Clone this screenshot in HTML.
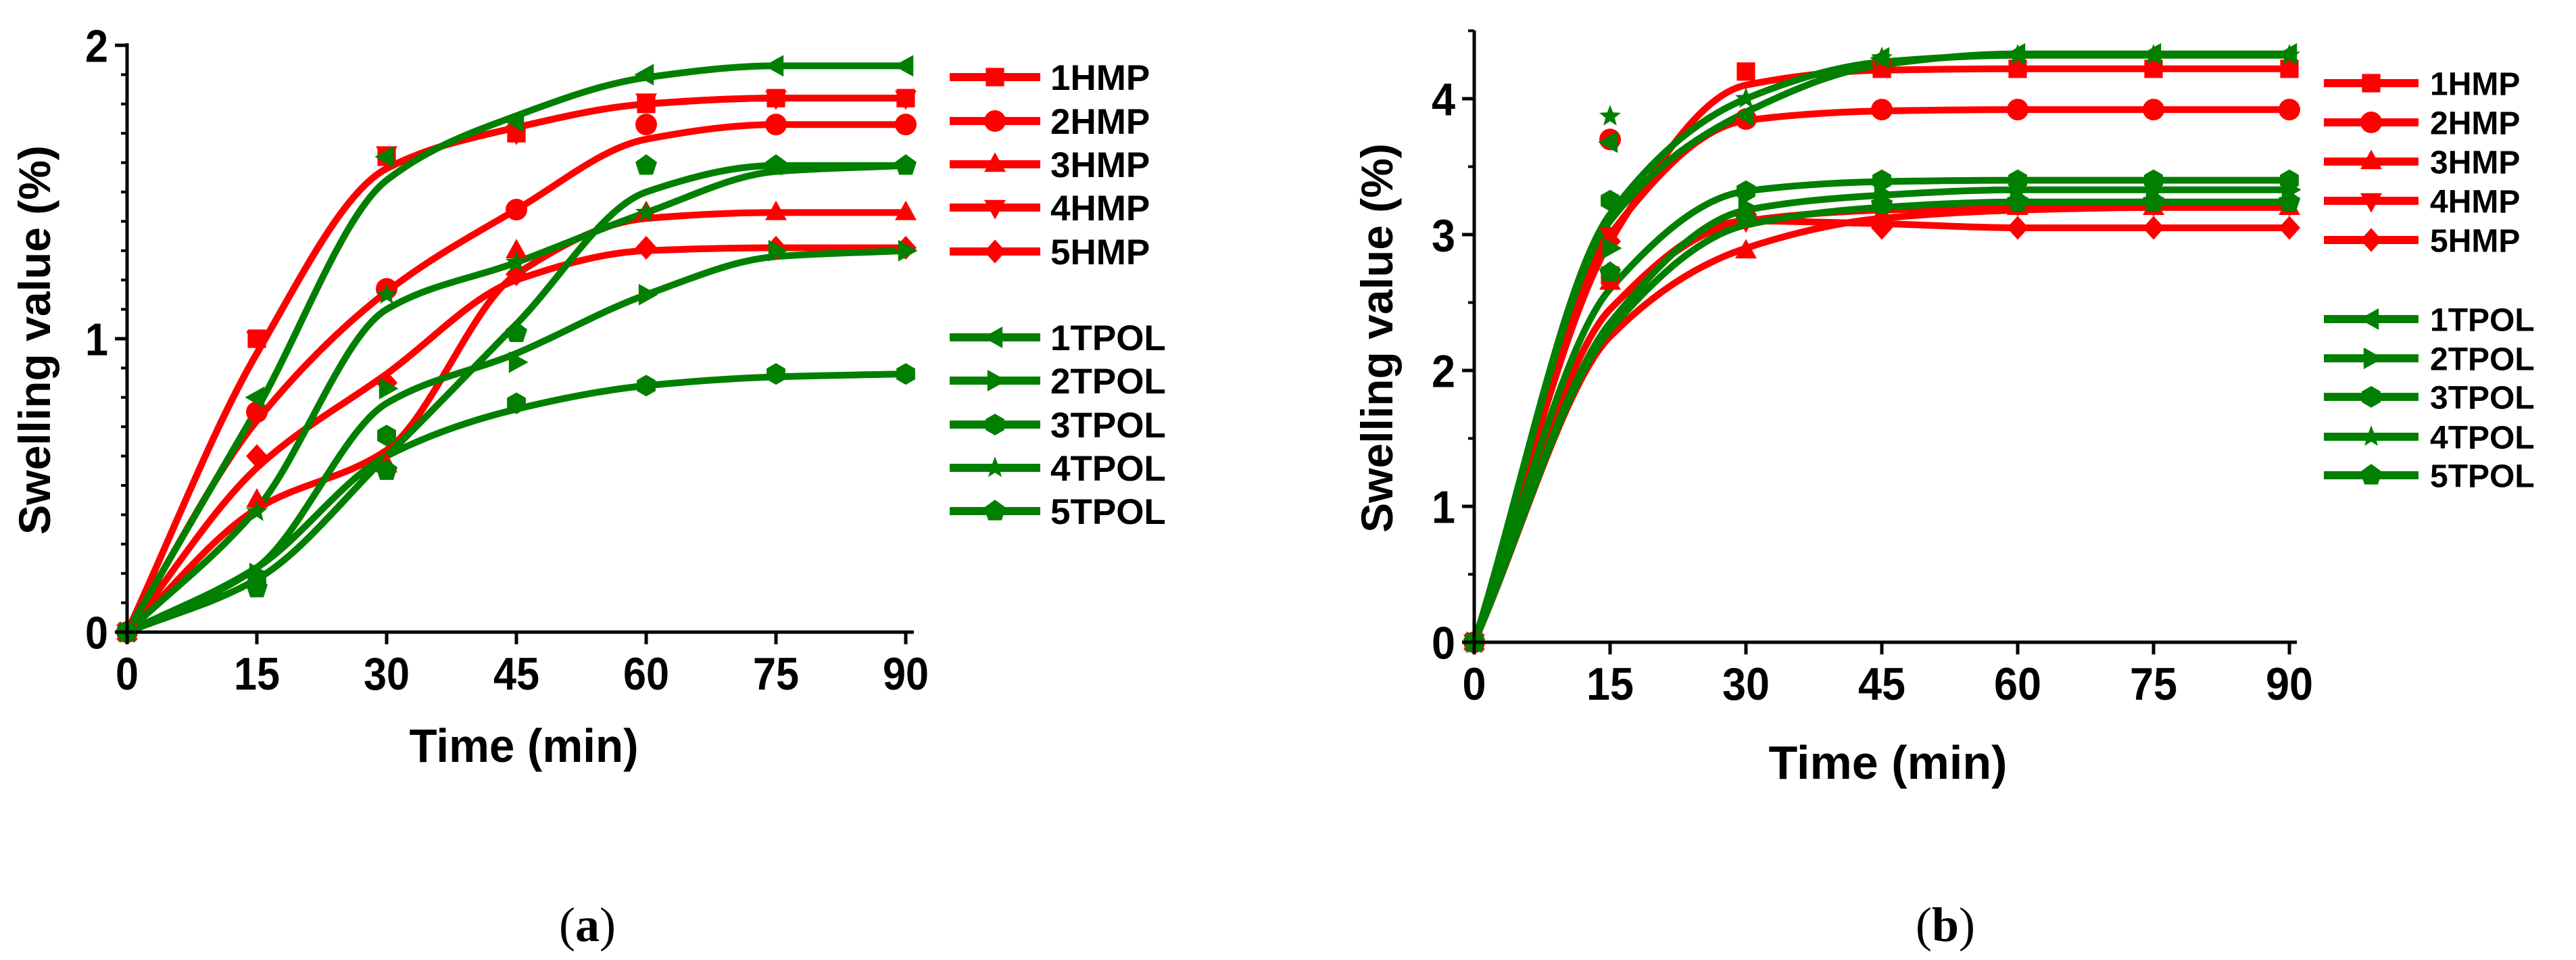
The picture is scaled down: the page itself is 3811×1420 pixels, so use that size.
<!DOCTYPE html>
<html><head><meta charset="utf-8">
<style>
html,body{margin:0;padding:0;background:#fff;}
svg{display:block;}
text{font-family:"Liberation Sans",Arial,sans-serif;font-weight:bold;fill:#000;}
.cap{font-family:"Liberation Serif",serif;font-weight:normal;}
</style></head>
<body>
<svg id="fig" width="3811" height="1420" viewBox="0 0 3811 1420" xmlns="http://www.w3.org/2000/svg">
<g id="chartA"></g>
<g id="chartB"></g>
<text class="cap" x="869" y="1392" font-size="72" text-anchor="middle">(<tspan font-weight="bold">a</tspan>)</text>
<text class="cap" x="2878" y="1392" font-size="72" text-anchor="middle">(<tspan font-weight="bold">b</tspan>)</text>
</svg>
<script>
const times = [0, 15, 30, 45, 60, 75, 90];
const seriesNames = ["1HMP","2HMP","3HMP","4HMP","5HMP","1TPOL","2TPOL","3TPOL","4TPOL","5TPOL"];
const xTicks = [0, 15, 30, 45, 60, 75, 90];
const yTicksA = [0, 1, 2];
const yTicksB = [0, 1, 2, 3, 4];
// chart (a) measured values
const a1HMP  = [0, 1.00, 1.62, 1.70, 1.80, 1.82, 1.82];
const a2HMP  = [0, 0.75, 1.17, 1.44, 1.73, 1.73, 1.73];
const a3HMP  = [0, 0.45, 0.57, 1.30, 1.43, 1.43, 1.43];
const a4HMP  = [0, 1.00, 1.63, 1.70, 1.81, 1.82, 1.82];
const a5HMP  = [0, 0.60, 0.85, 1.22, 1.31, 1.31, 1.31];
const a1TPOL = [0, 0.80, 1.62, 1.74, 1.90, 1.93, 1.93];
const a2TPOL = [0, 0.20, 0.83, 0.92, 1.15, 1.30, 1.30];
const a3TPOL = [0, 0.18, 0.67, 0.78, 0.84, 0.88, 0.88];
const a4TPOL = [0, 0.41, 1.15, 1.26, 1.43, 1.59, 1.59];
const a5TPOL = [0, 0.15, 0.55, 1.02, 1.59, 1.59, 1.59];
// chart (a) fitted curve values
const fa1HMP  = [0, 0.95, 1.58, 1.72, 1.80, 1.82, 1.82];
const fa2HMP  = [0, 0.72, 1.16, 1.44, 1.68, 1.73, 1.73];
const fa3HMP  = [0, 0.42, 0.62, 1.22, 1.41, 1.43, 1.43];
const fa4HMP  = [0, 0.95, 1.58, 1.72, 1.80, 1.82, 1.82];
const fa5HMP  = [0, 0.56, 0.88, 1.20, 1.30, 1.31, 1.31];
const fa1TPOL = [0, 0.76, 1.54, 1.76, 1.89, 1.93, 1.93];
const fa2TPOL = [0, 0.22, 0.78, 0.95, 1.15, 1.28, 1.30];
const fa3TPOL = [0, 0.22, 0.60, 0.76, 0.84, 0.87, 0.88];
const fa4TPOL = [0, 0.42, 1.10, 1.26, 1.43, 1.57, 1.59];
const fa5TPOL = [0, 0.18, 0.60, 1.05, 1.50, 1.59, 1.59];
// chart (b) measured values
const b1HMP  = [0, 2.70, 4.20, 4.22, 4.22, 4.22, 4.22];
const b2HMP  = [0, 3.70, 3.85, 3.92, 3.92, 3.92, 3.92];
const b3HMP  = [0, 2.65, 2.88, 3.15, 3.20, 3.20, 3.20];
const b4HMP  = [0, 3.00, 3.10, 3.20, 3.22, 3.22, 3.22];
const b5HMP  = [0, 2.95, 3.15, 3.05, 3.05, 3.05, 3.05];
const b1TPOL = [0, 3.68, 3.88, 4.30, 4.33, 4.33, 4.33];
const b2TPOL = [0, 2.90, 3.20, 3.30, 3.33, 3.33, 3.33];
const b3TPOL = [0, 3.25, 3.32, 3.40, 3.40, 3.40, 3.40];
const b4TPOL = [0, 3.87, 4.00, 4.30, 4.32, 4.32, 4.32];
const b5TPOL = [0, 2.72, 3.12, 3.22, 3.24, 3.24, 3.24];
// chart (b) fitted curve values
const fb1HMP  = [0, 2.95, 4.10, 4.21, 4.22, 4.22, 4.22];
const fb2HMP  = [0, 3.00, 3.84, 3.91, 3.92, 3.92, 3.92];
const fb3HMP  = [0, 2.25, 2.90, 3.12, 3.18, 3.20, 3.20];
const fb4HMP  = [0, 2.45, 3.10, 3.18, 3.20, 3.20, 3.20];
const fb5HMP  = [0, 2.45, 3.10, 3.08, 3.05, 3.05, 3.05];
const fb1TPOL = [0, 3.10, 3.90, 4.25, 4.33, 4.33, 4.33];
const fb2TPOL = [0, 2.35, 3.18, 3.29, 3.33, 3.33, 3.33];
const fb3TPOL = [0, 2.60, 3.32, 3.39, 3.40, 3.40, 3.40];
const fb4TPOL = [0, 3.15, 4.00, 4.27, 4.32, 4.32, 4.32];
const fb5TPOL = [0, 2.30, 3.07, 3.20, 3.24, 3.24, 3.24];

const dataA = [a1HMP,a2HMP,a3HMP,a4HMP,a5HMP,a1TPOL,a2TPOL,a3TPOL,a4TPOL,a5TPOL];
const fitA = [fa1HMP,fa2HMP,fa3HMP,fa4HMP,fa5HMP,fa1TPOL,fa2TPOL,fa3TPOL,fa4TPOL,fa5TPOL];
const dataB = [b1HMP,b2HMP,b3HMP,b4HMP,b5HMP,b1TPOL,b2TPOL,b3TPOL,b4TPOL,b5TPOL];
const fitB = [fb1HMP,fb2HMP,fb3HMP,fb4HMP,fb5HMP,fb1TPOL,fb2TPOL,fb3TPOL,fb4TPOL,fb5TPOL];
const colors = ["#ff0000","#ff0000","#ff0000","#ff0000","#ff0000","#007f00","#007f00","#007f00","#007f00","#007f00"];
const shapes = ["square","circle","up","down","diamond","left","right","hex","star","pent"];
const NS = "http://www.w3.org/2000/svg";

function mk(tag, attrs, parent){
  const e = document.createElementNS(NS, tag);
  for (const k in attrs) e.setAttribute(k, attrs[k]);
  parent.appendChild(e);
  return e;
}
function poly(n, r, rot){
  const p=[]; for(let i=0;i<n;i++){const a=rot+i*2*Math.PI/n;p.push([r*Math.cos(a),r*Math.sin(a)]);} return p;
}
function shapePts(s, r){
  switch(s){
    case "square": return [[-r*0.85,-r*0.85],[r*0.85,-r*0.85],[r*0.85,r*0.85],[-r*0.85,r*0.85]];
    case "up": return [[0,-r*1.1],[r,r*0.7],[-r,r*0.7]];
    case "down": return [[0,r*1.1],[r,-r*0.7],[-r,-r*0.7]];
    case "left": return [[-r*1.1,0],[r*0.7,-r],[r*0.7,r]];
    case "right": return [[r*1.1,0],[-r*0.7,-r],[-r*0.7,r]];
    case "diamond": return [[0,-r*1.1],[r,0],[0,r*1.1],[-r,0]];
    case "hex": return poly(6, r, -Math.PI/2);
    case "pent": return poly(5, r*1.05, -Math.PI/2);
    case "star": {const p=[];for(let i=0;i<10;i++){const a=-Math.PI/2+i*Math.PI/5;const rr=i%2?r*0.45:r*1.05;p.push([rr*Math.cos(a),rr*Math.sin(a)]);}return p;}
  }
  return null;
}
function marker(parent, s, x, y, r, col){
  let e;
  if (s==="circle") e = mk("circle",{cx:x,cy:y,r:r,fill:col},parent);
  else e = mk("polygon",{points:shapePts(s,r).map(p=>(x+p[0]).toFixed(1)+","+(y+p[1]).toFixed(1)).join(" "),fill:col},parent);
  return e;
}
function monoPath(pts){
  const n=pts.length, dx=[], dy=[], m=[], t=new Array(n);
  for(let i=0;i<n-1;i++){dx[i]=pts[i+1][0]-pts[i][0];dy[i]=pts[i+1][1]-pts[i][1];m[i]=dy[i]/dx[i];}
  t[0]=m[0]; t[n-1]=m[n-2];
  for(let i=1;i<n-1;i++){
    if(m[i-1]*m[i]<=0) t[i]=0;
    else { const w1=2*dx[i]+dx[i-1], w2=dx[i]+2*dx[i-1]; t[i]=(w1+w2)/(w1/m[i-1]+w2/m[i]); }
  }
  let d="M"+pts[0][0].toFixed(1)+","+pts[0][1].toFixed(1);
  for(let i=0;i<n-1;i++){
    const h=dx[i]/3;
    d+=" C"+(pts[i][0]+h).toFixed(1)+","+(pts[i][1]+t[i]*h).toFixed(1)+" "+(pts[i+1][0]-h).toFixed(1)+","+(pts[i+1][1]-t[i+1]*h).toFixed(1)+" "+pts[i+1][0].toFixed(1)+","+pts[i+1][1].toFixed(1);
  }
  return d;
}

function drawChart(g, cfg){
  const X = v => cfg.x0 + v * (cfg.x90 - cfg.x0) / 90;
  const Y = v => cfg.y0 - v * cfg.unit;
  cfg.fit.forEach((vals, si) => {
    const pts = times.map((t,i)=>[X(t),Y(vals[i])]);
    const path = mk("path",{d:monoPath(pts),fill:"none",stroke:colors[si],"stroke-width":cfg.lw,"stroke-linejoin":"round"},g);
    
    
  });
  cfg.data.forEach((vals, si) => {
    times.forEach((t,i)=>{
      const m = marker(g, shapes[si], X(t), Y(vals[i]), cfg.mr, colors[si]);
      
      
    });
  });
  const ax = mk("line",{x1:cfg.x0,y1:cfg.yTop,x2:cfg.x0,y2:cfg.y0+2,stroke:"#000","stroke-width":5},g);
  
  
  const bx = mk("line",{x1:cfg.x0-16,y1:cfg.y0,x2:cfg.xEnd,y2:cfg.y0,stroke:"#000","stroke-width":5},g);
  
  
  for (let v=0; v<=cfg.yMax+1e-9; v+=cfg.minor){
    mk("line",{x1:cfg.x0-9,y1:Y(v),x2:cfg.x0,y2:Y(v),stroke:"#000","stroke-width":4},g);
  }
  cfg.yTicks.forEach(v=>{
    mk("line",{x1:cfg.x0-18,y1:Y(v),x2:cfg.x0,y2:Y(v),stroke:"#000","stroke-width":5},g);
    const t = mk("text",{x:cfg.x0-28,y:Y(v)+cfg.tf*0.36,"font-size":cfg.tf,"text-anchor":"end",textLength:cfg.dw,lengthAdjust:"spacingAndGlyphs"},g);
    t.textContent = v;
    
    
  });
  xTicks.forEach(v=>{
    mk("line",{x1:X(v),y1:cfg.y0,x2:X(v),y2:cfg.y0+18,stroke:"#000","stroke-width":5},g);
    const s = String(v);
    const t = mk("text",{x:X(v),y:cfg.xlY,"font-size":cfg.tf,"text-anchor":"middle",textLength:cfg.dw*s.length,lengthAdjust:"spacingAndGlyphs"},g);
    t.textContent = s;
    
    
  });
  const xt = mk("text",{x:cfg.xtX,y:cfg.xtY,"font-size":70,"text-anchor":"middle",textLength:cfg.xtW,lengthAdjust:"spacingAndGlyphs"},g);
  xt.textContent = "Time (min)";
  
  
  const yt = mk("text",{x:0,y:0,"font-size":66,"text-anchor":"middle",transform:"translate("+cfg.ytX+","+cfg.ytY+") rotate(-90)"},g);
  yt.textContent = "Swelling value (%)";
  
  
  seriesNames.forEach((n, si)=>{
    const ly = cfg.legY[si];
    const lg = mk("g",{},g);
    
    
    mk("line",{x1:cfg.legX1,y1:ly,x2:cfg.legX2,y2:ly,stroke:colors[si],"stroke-width":12},lg);
    marker(lg, shapes[si], (cfg.legX1+cfg.legX2)/2, ly, cfg.mr, colors[si]);
    const t = mk("text",{x:cfg.legTX,y:ly+cfg.lf*0.36,"font-size":cfg.lf},lg);
    t.textContent = n;
  });
}

drawChart(document.getElementById("chartA"), {
  data:dataA, fit:fitA, x0:188, x90:1340, xEnd:1352, y0:935, unit:434, yTop:64, yMax:2, minor:0.1,
  yTicks:yTicksA, tf:68, dw:34, xlY:1020, lw:10, mr:16,
  xtX:775, xtY:1127, xtW:339, ytX:74, ytY:503,
  legX1:1405, legX2:1539, legTX:1554, lf:53,
  legY:[114,179,243,307,372,499,563,628,692,756]
});
drawChart(document.getElementById("chartB"), {
  data:dataB, fit:fitB, x0:2181, x90:3387, xEnd:3398, y0:950, unit:201, yTop:45, yMax:4.5, minor:0.5,
  yTicks:yTicksB, tf:68, dw:35, xlY:1035, lw:10, mr:16,
  xtX:2793, xtY:1152, xtW:353, ytX:2060, ytY:500,
  legX1:3438, legX2:3578, legTX:3595, lf:48,
  legY:[123,181,239,297,355,472,530,587,646,703]
});
</script>
</body></html>
